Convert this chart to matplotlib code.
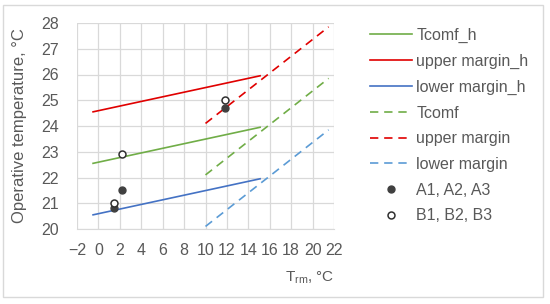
import matplotlib
matplotlib.use("Agg")
import matplotlib.pyplot as plt
from matplotlib.patches import Rectangle

plt.rcParams['font.family'] = ['Liberation Sans', 'DejaVu Sans']

# data
x_h = [-0.5, 15.1]
tcomf_h = [22.55, 23.95]
upper_h = [24.55, 25.95]
lower_h = [20.55, 21.95]

x_d = [10.0, 21.5]
tcomf = [22.1, 25.85]
upper = [24.1, 27.85]
lower = [20.1, 23.85]

a_x = [1.45, 2.2, 11.8]
a_y = [20.8, 21.5, 24.7]
b_x = [1.45, 2.2, 11.8]
b_y = [21.0, 22.9, 25.0]

xticks = list(range(-2, 23, 2))
yticks = list(range(20, 29, 1))

W, H = 550, 304
fig = plt.figure(figsize=(W / 100, H / 100), dpi=100)
ax = fig.add_axes([77 / W, 1 - 229 / H, (334 - 77) / W, (229 - 23) / H])

green = '#70AD47'
red = '#E00000'
blue = '#4472C4'
lblue = '#5B9BD5'
dash = (0, (5, 3.5))

ax.plot(x_h, tcomf_h, color=green, lw=1.2, label='Tcomf_h')
ax.plot(x_h, upper_h, color=red, lw=1.2, label='upper margin_h')
ax.plot(x_h, lower_h, color=blue, lw=1.2, label='lower margin_h')
ax.plot(x_d, tcomf, color=green, lw=1.2, ls=dash, label='Tcomf')
ax.plot(x_d, upper, color=red, lw=1.2, ls=dash, label='upper margin')
ax.plot(x_d, lower, color=lblue, lw=1.2, ls=dash, label='lower margin')
ax.plot(a_x, a_y, 'o', ms=6, color='#404040', mec='#404040', label='A1, A2, A3')
ax.plot(b_x, b_y, 'o', ms=6, mfc='white', mec='#303030', mew=1.1, label='B1, B2, B3')

ax.set_xlim(-2, 22)
ax.set_ylim(20, 28)
ax.set_xticks(xticks)
ax.set_yticks(yticks)
ax.set_xticklabels([str(t).replace('-', '\u2212') for t in xticks])
ax.grid(True, color='#D9D9D9', lw=0.9)
ax.set_axisbelow(True)
for s in ax.spines.values():
    s.set_visible(False)
ax.spines['bottom'].set_visible(True)
ax.spines['bottom'].set_color('#D9D9D9')
ax.tick_params(length=0, labelsize=11.5, colors='#595959')
ax.tick_params(axis='x', pad=10)
ax.tick_params(axis='y', pad=13)

fig.text(20 / W, 1 - 126 / H, 'Operative temperature, °C', rotation=90,
         ha='center', va='center', fontsize=12, color='#595959')
fig.text(334 / W, 1 - 278 / H, r'T$_{\mathregular{rm}}$, °C', ha='right', va='center',
         fontsize=11, color='#595959')

handles, labels = ax.get_legend_handles_labels()
for h in handles[6:]:
    h.set_markersize(5)
leg = fig.legend(handles, labels, loc='upper left', bbox_to_anchor=(370 / W, 1 - 28 / H),
                 frameon=False, fontsize=11.5, labelcolor='#595959', handlelength=2.65,
                 handletextpad=0.25, labelspacing=0.67, borderaxespad=0, borderpad=0)

fig.patches.append(Rectangle((3 / W, 1 - 297 / H), (543 - 3) / W, (297 - 5) / H,
                             transform=fig.transFigure, fill=False, ec='#D9D9D9', lw=1))

fig.savefig('out.png', dpi=100)
